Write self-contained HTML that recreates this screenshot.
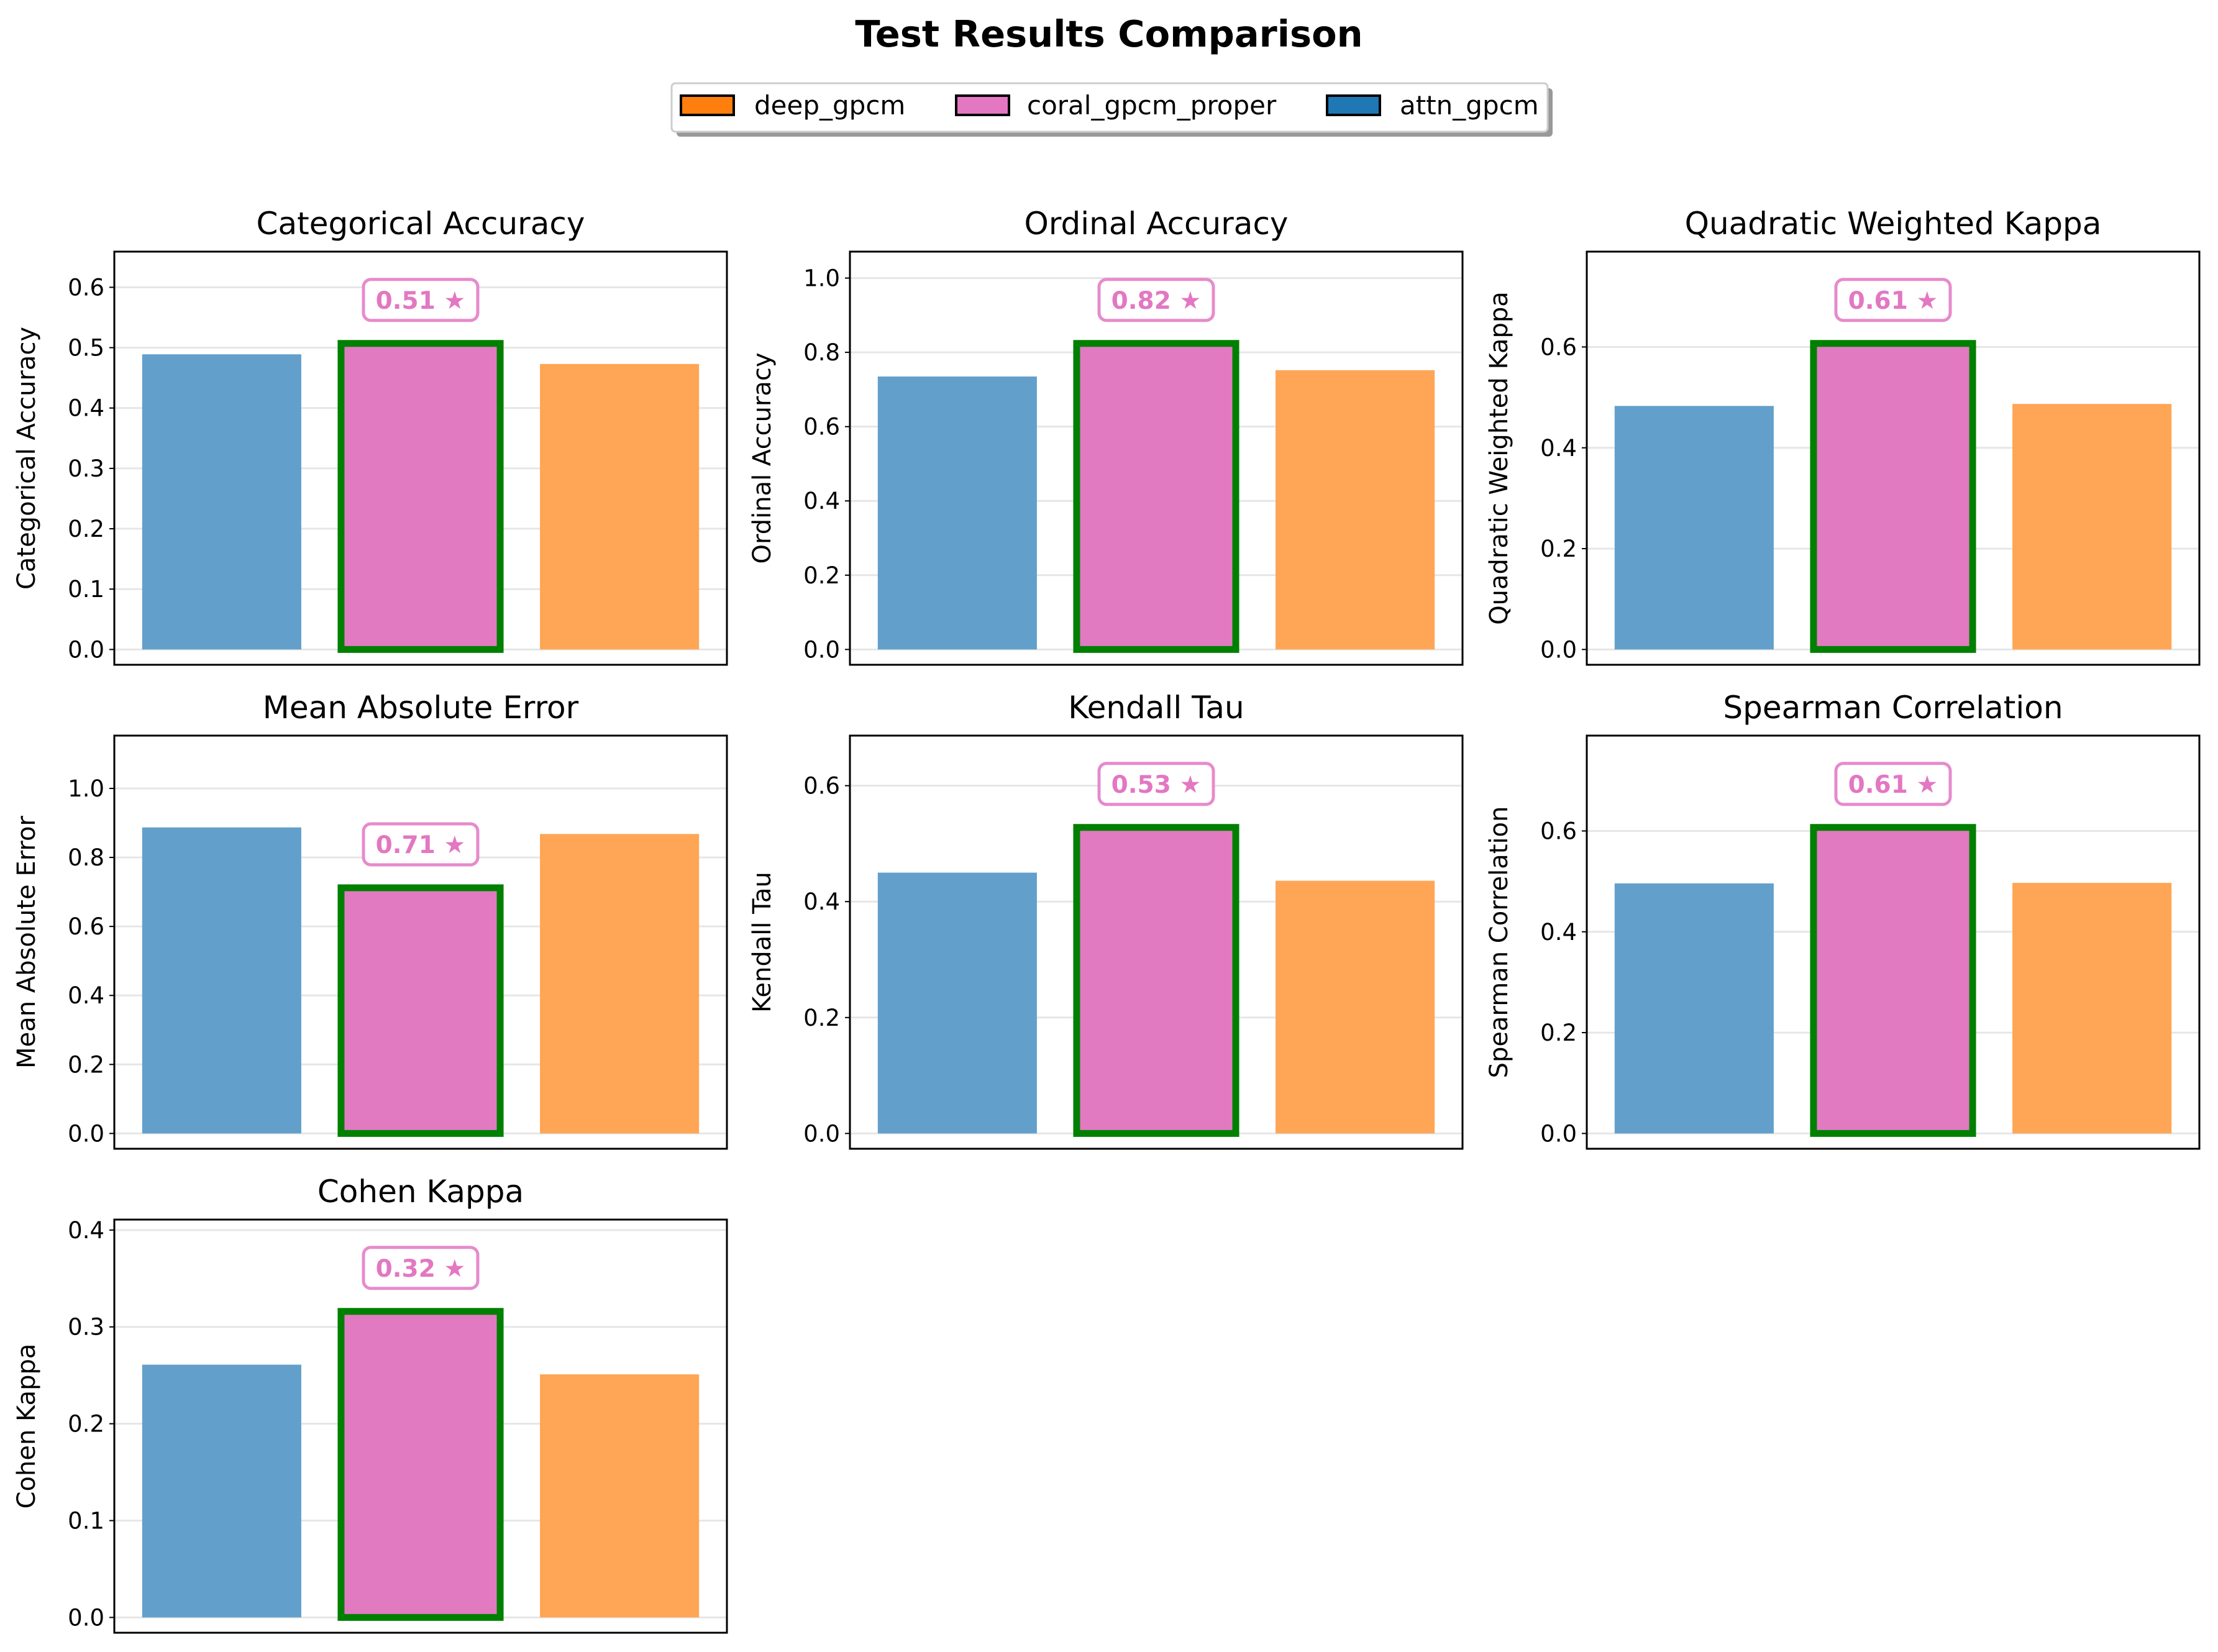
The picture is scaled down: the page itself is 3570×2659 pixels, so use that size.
<!DOCTYPE html>
<html><head><meta charset="utf-8"><style>
html,body{margin:0;padding:0;background:#fff;}
svg{display:block;font-family:"DejaVu Sans","Liberation Sans",sans-serif;}
</style></head><body>
<svg id="chart" xmlns="http://www.w3.org/2000/svg" width="3570" height="2659" viewBox="0 0 3570 2659">
<rect width="3570" height="2659" fill="#fff"/>
<text x="1785" y="75" text-anchor="middle" font-size="59" font-weight="bold">Test Results Comparison</text>
<g>
<rect x="1089" y="142" width="1410" height="78" rx="6" fill="#999"/>
<rect x="1081" y="134" width="1410" height="78" rx="6" fill="#fff" stroke="#ccc" stroke-width="3"/>
<rect x="1096" y="154" width="85" height="31" fill="#ff7f0e" stroke="#000" stroke-width="4"/>
<text x="1214" y="184" font-size="42">deep_gpcm</text>
<rect x="1539" y="154" width="85" height="31" fill="#e377c2" stroke="#000" stroke-width="4"/>
<text x="1653" y="184" font-size="42">coral_gpcm_proper</text>
<rect x="2136" y="154" width="85" height="31" fill="#1f77b4" stroke="#000" stroke-width="4"/>
<text x="2253" y="184" font-size="42">attn_gpcm</text>
</g>
<g id="panels"></g>
</svg>
<script>
const metricTitles = ["Categorical Accuracy","Ordinal Accuracy","Quadratic Weighted Kappa","Mean Absolute Error","Kendall Tau","Spearman Correlation","Cohen Kappa"];
const attnValues  = [0.489, 0.735, 0.483, 0.887, 0.450, 0.496, 0.261];
const coralValues = [0.507, 0.824, 0.607, 0.712, 0.528, 0.607, 0.316];
const deepValues  = [0.473, 0.752, 0.487, 0.868, 0.436, 0.497, 0.251];
const bestLabels  = ["0.51","0.82","0.61","0.71","0.53","0.61","0.32"];
const tickStep    = [0.1, 0.2, 0.2, 0.2, 0.2, 0.2, 0.1];
const tickMax     = [0.6, 1.0, 0.6, 1.0, 0.6, 0.6, 0.4];

const NS = "http://www.w3.org/2000/svg";
const root = document.getElementById("panels");
function mk(tag, attrs, parent){ const e=document.createElementNS(NS,tag); for(const k in attrs) e.setAttribute(k,attrs[k]); (parent||root).appendChild(e); return e; }
const colLeft=[184,1368,2554], rowTop=[405,1184,1963], W=986, H=665;
const fills=["#62a0cb","#e27ac2","#ffa556"];
const keys=["attn","coral","deep"];

metricTitles.forEach((title,i)=>{
  const x0=colLeft[i%3], y0=rowTop[Math.floor(i/3)];
  const vals=[attnValues[i],coralValues[i],deepValues[i]];
  const mx=Math.max(...vals);
  const ymin=-0.05*mx, ymax=1.3*mx;
  const ys=v=>y0+H-(v-ymin)/(ymax-ymin)*H;
  const xmin=-0.54,xmax=2.54;
  const xs=v=>x0+(v-xmin)/(xmax-xmin)*W;
  const g=mk("g",{});
  
  
  const t=mk("text",{x:x0+W/2,y:y0-28,"text-anchor":"middle","font-size":"50"},g);
  t.textContent=title;
  
  
  const yl=mk("text",{transform:`translate(${x0-128},${y0+H/2}) rotate(-90)`,"text-anchor":"middle","font-size":"40"},g);
  yl.textContent=title;
  
  
  const n=Math.round(tickMax[i]/tickStep[i]);
  for(let k=0;k<=n;k++){
    const v=k*tickStep[i], y=ys(v);
    const gl=mk("line",{x1:x0,x2:x0+W,y1:y,y2:y,stroke:"#e6e6e6","stroke-width":"3"},g);
    
    
    mk("line",{x1:x0-8,x2:x0,y1:y,y2:y,stroke:"#000","stroke-width":"2"},g);
    const tl=mk("text",{x:x0-16,y:y+13,"text-anchor":"end","font-size":"37"},g);
    tl.textContent=v.toFixed(1);
    
    
  }
  const best = title==="Mean Absolute Error" ? vals.indexOf(Math.min(...vals)) : vals.indexOf(mx);
  vals.forEach((v,j)=>{
    const bx=xs(j-0.4), bw=xs(j+0.4)-bx, by=ys(v), bh=ys(0)-by;
    const r=mk("rect",{x:bx,y:by,width:bw,height:bh,fill:fills[j]},g);
    
    
    if(j===best){
      r.setAttribute("stroke","#008000"); r.setAttribute("stroke-width","11");
      const lx=xs(j), ly=by-70;
      const box=mk("rect",{x:lx-92,y:ly-33,width:184,height:66,rx:12,fill:"#fff",stroke:"#e68bcc","stroke-width":"5"},g);
      
      
      const lt=mk("text",{x:lx,y:ly+14,"text-anchor":"middle","font-size":"39","font-weight":"bold",fill:"#e377c2"},g);
      lt.textContent=bestLabels[i]+" ★";
      
      
    }
  });
  const fr=mk("rect",{x:x0,y:y0,width:W,height:H,fill:"none",stroke:"#000","stroke-width":"3"},g);
  
  
});
</script>
</body></html>
